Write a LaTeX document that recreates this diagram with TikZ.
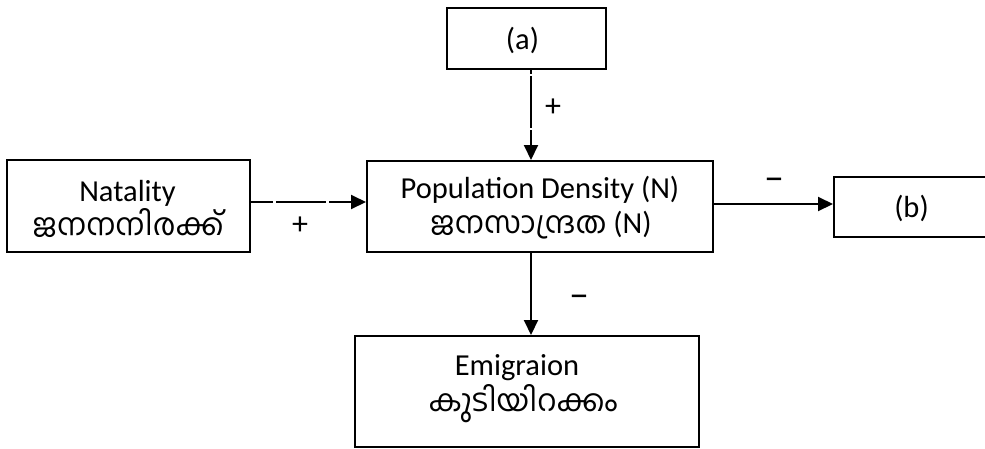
\documentclass[tikz,border=0pt]{standalone}
\usepackage{fontspec}
\setmainfont{Carlito}
\newfontfamily\ml[Script=Malayalam]{Hind Kochi}
\usetikzlibrary{arrows.meta}
\begin{document}
\begin{tikzpicture}[x=1pt,y=-1pt,
  box/.style={draw,line width=2pt,rectangle,inner sep=0pt},
  txt/.style={anchor=base,inner sep=0pt,font=\fontsize{30.5}{35}\selectfont},
  conn/.style={line width=2pt,-{Triangle[length=15pt,width=14pt]}},
  sign/.style={font=\fontsize{32}{34}\selectfont,inner sep=0pt},
  minus/.style={font=\fontsize{40}{42}\selectfont,inner sep=0pt}]
\useasboundingbox (0,0) rectangle (985,448);
% boxes
\node[box,minimum width=243pt,minimum height=92pt] (nat) at (128.5,206) {};
\node[box,minimum width=159pt,minimum height=61pt] (a) at (526.5,38.5) {};
\node[box,minimum width=346pt,minimum height=91pt] (pop) at (540,206.5) {};
\node[box,minimum width=155pt,minimum height=60pt] (b) at (911.5,207) {};
\node[box,minimum width=344pt,minimum height=111pt] (emig) at (527,391.5) {};
% texts
\node[txt] (nat1) at (127.5,201) {Natality};
\node[txt] (nat2) at (128,235) {\ml ജനനനിരക്ക്};
\node[txt] (at) at (522.5,49) {(a)};
\node[txt] (pop1) at (540,198) {Population Density (N)};
\node[txt] (pop2) at (541,233) {{\ml ജനസാന്ദ്രത} (N)};
\node[txt] (bt) at (911.5,217) {(b)};
\node[txt] (emig1) at (517,375) {Emigraion};
\node[txt] (emig2) at (523,411) {\ml കുടിയിറക്കം};
% connectors
\draw[conn,dash pattern=on 22pt off 3pt on 50pt off 3pt on 200pt] ([yshift=4pt]nat.east) -- ([yshift=4.5pt]pop.west);
\draw[conn,dash pattern=on 4pt off 2pt on 52pt off 2pt on 200pt] ([xshift=4.5pt]a.south) -- ([xshift=-9pt]pop.north);
\draw[conn] ([yshift=2.5pt]pop.east) -- ([yshift=3pt]b.west);
\draw[conn] ([xshift=-9pt]pop.south) -- ([xshift=4pt]emig.north);
% signs
\node[sign] (p1) at (553,108) {+};
\node[sign] (p2) at (300,226) {+};
\node[minus] (m1) at (774,184) {–};
\node[minus] (m2) at (579,301) {–};
\end{tikzpicture}
\end{document}
